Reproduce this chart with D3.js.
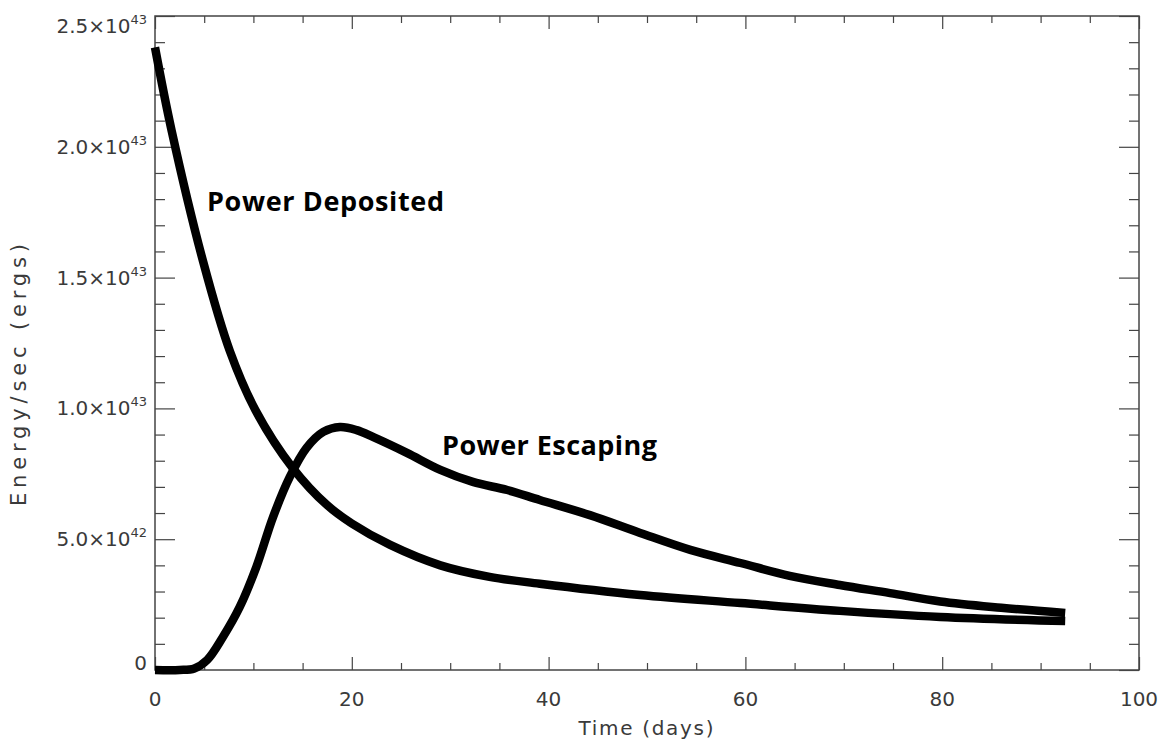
<!DOCTYPE html>
<html>
<head>
<meta charset="utf-8">
<script src="https://cdn.jsdelivr.net/npm/d3@7"></script>
<style>
  html, body { margin: 0; padding: 0; background: #fff; }
  svg { display: block; }
</style>
</head>
<body>
<svg id="chart" width="1164" height="743"></svg>
<script>
// ---- data (values in units of 1e42 erg/s) ----
const depositedTime = [0, 1.7, 4.9, 7.6, 10.2, 14.0, 17.5, 20, 23.9, 29, 34, 39.1, 49.3, 59.5, 69.6, 79.8, 92.5];
const depositedPower = [23.8, 20.6, 15.6, 12.2, 9.94, 7.72, 6.3, 5.6, 4.78, 4.0, 3.56, 3.3, 2.87, 2.56, 2.26, 2.03, 1.87];

const escapingTime = [0, 2.5, 4.0, 5.3, 6.9, 8.6, 10.3, 12.0, 13.7, 15.4, 17.1, 18.8, 20.5, 22.2, 25.6, 29, 32.3, 35.8, 39.1, 44.2, 49.3, 54.4, 59.5, 64.5, 69.6, 74.7, 79.8, 86, 92.5];
const escapingPower = [0, 0, 0.06, 0.38, 1.26, 2.4, 3.94, 5.85, 7.38, 8.49, 9.1, 9.29, 9.17, 8.9, 8.3, 7.65, 7.19, 6.88, 6.5, 5.92, 5.24, 4.59, 4.09, 3.6, 3.25, 2.94, 2.62, 2.38, 2.18];

const xMajorTicks = [0, 20, 40, 60, 80, 100];
const xMinorTicks = [5, 10, 15, 25, 30, 35, 45, 50, 55, 65, 70, 75, 85, 90, 95];
const yMajorTicks = [0, 5, 10, 15, 20, 25];
const yMinorTicks = [1, 2, 3, 4, 6, 7, 8, 9, 11, 12, 13, 14, 16, 17, 18, 19, 21, 22, 23, 24];
const yTickMantissa = ["0", "5.0", "1.0", "1.5", "2.0", "2.5"];
const yTickExponent = ["", "42", "43", "43", "43", "43"];

const xTitle = "Time (days)";
const yTitle = "Energy/sec (ergs)";
const labelDeposited = "Power Deposited";
const labelEscaping = "Power Escaping";

// ---- layout ----
const svg = d3.select("#chart");
const m = { left: 155, right: 1139, top: 16, bottom: 670 };
const x = d3.scaleLinear().domain([0, 100]).range([m.left, m.right]);
const y = d3.scaleLinear().domain([0, 25]).range([m.bottom, m.top]);

const axisColor = "#444";
const textColor = "#3a3a3a";
const tickFont = "'DejaVu Sans', sans-serif";

function styleAxis(g) {
  g.select(".domain").remove();
  g.selectAll(".tick line").attr("stroke", axisColor).attr("stroke-width", 1.2);
  g.selectAll(".tick text").remove();
}

// bottom
svg.append("g").attr("transform", `translate(0,${m.bottom})`)
  .call(d3.axisBottom(x).tickValues(xMajorTicks).tickSize(-13)).call(styleAxis);
svg.append("g").attr("transform", `translate(0,${m.bottom})`)
  .call(d3.axisBottom(x).tickValues(xMinorTicks).tickSize(-7)).call(styleAxis);
// top
svg.append("g").attr("transform", `translate(0,${m.top})`)
  .call(d3.axisTop(x).tickValues(xMajorTicks).tickSize(-13)).call(styleAxis);
svg.append("g").attr("transform", `translate(0,${m.top})`)
  .call(d3.axisTop(x).tickValues(xMinorTicks).tickSize(-7)).call(styleAxis);
// left
svg.append("g").attr("transform", `translate(${m.left},0)`)
  .call(d3.axisLeft(y).tickValues(yMajorTicks).tickSize(-20)).call(styleAxis);
svg.append("g").attr("transform", `translate(${m.left},0)`)
  .call(d3.axisLeft(y).tickValues(yMinorTicks).tickSize(-10)).call(styleAxis);
// right
svg.append("g").attr("transform", `translate(${m.right},0)`)
  .call(d3.axisRight(y).tickValues(yMajorTicks).tickSize(-20)).call(styleAxis);
svg.append("g").attr("transform", `translate(${m.right},0)`)
  .call(d3.axisRight(y).tickValues(yMinorTicks).tickSize(-10)).call(styleAxis);

// frame
svg.append("rect")
  .attr("x", m.left).attr("y", m.top)
  .attr("width", m.right - m.left).attr("height", m.bottom - m.top)
  .attr("fill", "none").attr("stroke", axisColor).attr("stroke-width", 1.5);

// x tick labels
svg.append("g").selectAll("text").data(xMajorTicks).join("text")
  .attr("x", d => x(d)).attr("y", m.bottom + 36)
  .attr("text-anchor", "middle")
  .attr("font-family", tickFont).attr("font-size", 20)
  .attr("fill", textColor)
  .text(d => d);

// y tick labels with superscript exponents
const yl = svg.append("g").selectAll("text").data(yMajorTicks).join("text")
  .attr("x", m.left - 8)
  .attr("y", d => Math.min(Math.max(y(d) + 7, m.top + 17), m.bottom))
  .attr("text-anchor", "end")
  .attr("font-family", tickFont).attr("font-size", 20)
  .attr("fill", textColor);
yl.each(function (d, i) {
  const t = d3.select(this);
  if (yTickExponent[i] === "") {
    t.text(yTickMantissa[i]);
  } else {
    t.append("tspan").text(yTickMantissa[i] + "\u00d710");
    t.append("tspan").attr("dy", -9).attr("font-size", 13).text(yTickExponent[i]);
  }
});

// axis titles
svg.append("text")
  .attr("x", (m.left + m.right) / 2 - 1).attr("y", 735)
  .attr("text-anchor", "middle")
  .attr("font-family", tickFont).attr("font-size", 20)
  .attr("fill", textColor)
  .attr("textLength", 135).attr("lengthAdjust", "spacing")
  .text(xTitle);
svg.append("text")
  .attr("transform", "translate(26,375) rotate(-90)")
  .attr("text-anchor", "middle")
  .attr("font-family", tickFont).attr("font-size", 21)
  .attr("fill", textColor)
  .attr("textLength", 262).attr("lengthAdjust", "spacing")
  .text(yTitle);

// curves
const line = d3.line().x(d => x(d[0])).y(d => y(d[1])).curve(d3.curveCatmullRom.alpha(0.5));
const depData = depositedTime.map((t, i) => [t, depositedPower[i]]);
const escData = escapingTime.map((t, i) => [t, escapingPower[i]]);

svg.append("path").datum(depData)
  .attr("d", line).attr("fill", "none")
  .attr("stroke", "#000").attr("stroke-width", 8.5).attr("stroke-linejoin", "round");
svg.append("path").datum(escData)
  .attr("d", line).attr("fill", "none")
  .attr("stroke", "#000").attr("stroke-width", 8.5).attr("stroke-linejoin", "round");

// annotations
svg.append("text")
  .attr("x", 207).attr("y", 211)
  .attr("font-family", "'Open Sans', sans-serif").attr("font-weight", "bold")
  .attr("font-size", 27).attr("fill", "#000")
  .attr("textLength", 237).attr("lengthAdjust", "spacing")
  .text(labelDeposited);
svg.append("text")
  .attr("x", 442).attr("y", 455)
  .attr("font-family", "'Open Sans', sans-serif").attr("font-weight", "bold")
  .attr("font-size", 27).attr("fill", "#000")
  .attr("textLength", 215).attr("lengthAdjust", "spacing")
  .text(labelEscaping);
</script>
</body>
</html>
